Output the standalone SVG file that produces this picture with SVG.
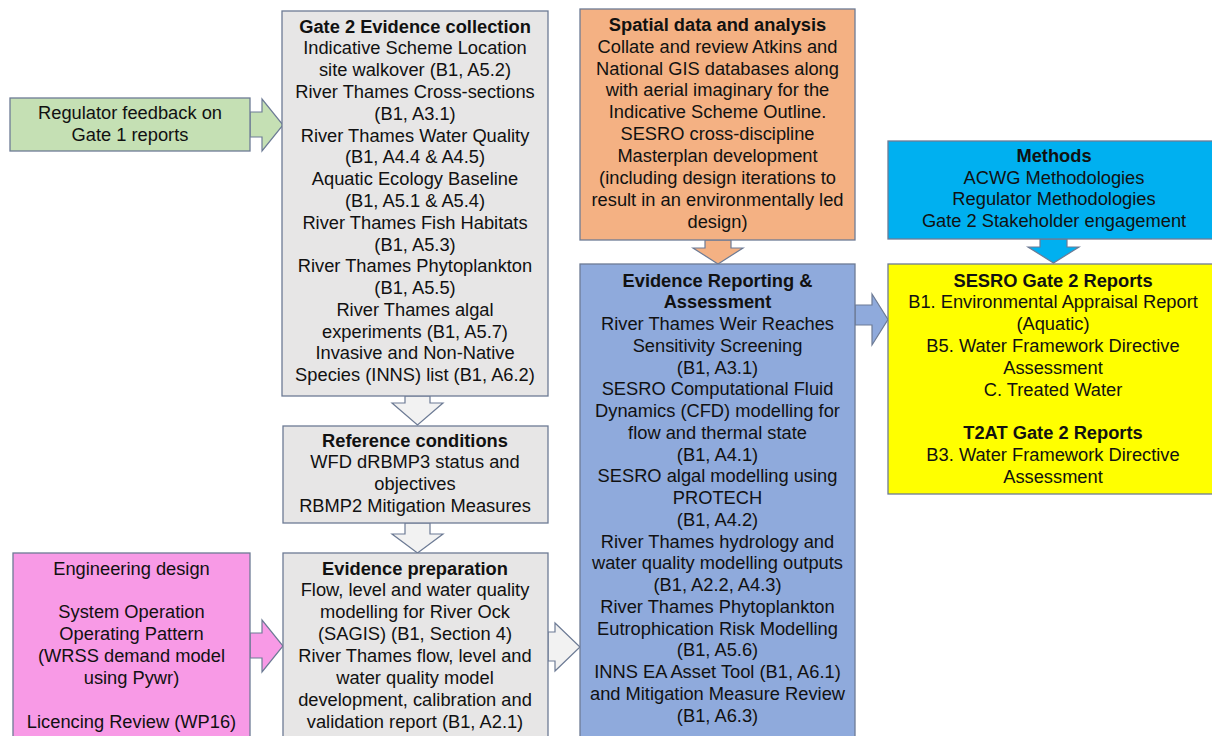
<svg xmlns="http://www.w3.org/2000/svg" width="1212" height="736" viewBox="0 0 1212 736">
<style>
.box{stroke:#6d7b95;stroke-width:1.3}
.arr{stroke:#6d7b95;stroke-width:1.2}
text{font-family:"Liberation Sans",Arial,sans-serif;font-size:18.3px;fill:#111;text-anchor:middle}
.b{font-weight:bold}
</style>
<rect width="1212" height="736" fill="#fff"/>
<g id="connectors">
<polygon class="arr" fill="#c5e0b4" points="250,112 262,112 262,99 283,125 262,151 262,137 250,137"/>
<polygon class="arr" fill="#f2f2f2" points="405,396 430,396 430,403 443,403 417.5,425 392,403 405,403"/>
<polygon class="arr" fill="#f2f2f2" points="405,523 430,523 430,534 443,534 417.5,553 392,534 405,534"/>
<polygon class="arr" fill="#f89ae6" points="250,633 262,633 262,620 283,646 262,672 262,658 250,658"/>
<polygon class="arr" fill="#f2f2f2" points="548,632 555,632 555,623 580,647 555,671 555,661 548,661"/>
<polygon class="arr" fill="#f4b183" points="705,240 731,240 731,248 743,248 718,264 693,248 705,248"/>
<polygon class="arr" fill="#00b0f0" points="1040,239 1067,239 1067,247 1079,247 1053.5,263 1028,247 1040,247"/>
<polygon class="arr" fill="#8faadc" points="855,305 872,305 872,294 888,319.5 872,345 872,325 855,325"/>
</g>
<g id="regulator">
<rect class="box" x="10" y="98" width="240" height="53" fill="#c5e0b4"/>
<text x="130" y="119">Regulator feedback on<tspan x="130" dy="21.8">Gate 1 reports</tspan></text>
</g>
<g id="gate2-evidence">
<rect class="box" x="282" y="11" width="266" height="385" fill="#e7e6e6"/>
<text x="415" y="32.5"><tspan class="b">Gate 2 Evidence collection</tspan><tspan x="415" dy="21.8">Indicative Scheme Location</tspan><tspan x="415" dy="21.8">site walkover (B1, A5.2)</tspan><tspan x="415" dy="21.8">River Thames Cross-sections</tspan><tspan x="415" dy="21.8">(B1, A3.1)</tspan><tspan x="415" dy="21.8">River Thames Water Quality</tspan><tspan x="415" dy="21.8">(B1, A4.4 &amp; A4.5)</tspan><tspan x="415" dy="21.8">Aquatic Ecology Baseline</tspan><tspan x="415" dy="21.8">(B1, A5.1 &amp; A5.4)</tspan><tspan x="415" dy="21.8">River Thames Fish Habitats</tspan><tspan x="415" dy="21.8">(B1, A5.3)</tspan><tspan x="415" dy="21.8">River Thames Phytoplankton</tspan><tspan x="415" dy="21.8">(B1, A5.5)</tspan><tspan x="415" dy="21.8">River Thames algal</tspan><tspan x="415" dy="21.8">experiments (B1, A5.7)</tspan><tspan x="415" dy="21.8">Invasive and Non-Native</tspan><tspan x="415" dy="21.8">Species (INNS) list (B1, A6.2)</tspan></text>
</g>
<g id="reference-conditions">
<rect class="box" x="283" y="426" width="265" height="97" fill="#e7e6e6"/>
<text x="415" y="446.5"><tspan class="b">Reference conditions</tspan><tspan x="415" dy="21.8">WFD dRBMP3 status and</tspan><tspan x="415" dy="21.8">objectives</tspan><tspan x="415" dy="21.8">RBMP2 Mitigation Measures</tspan></text>
</g>
<g id="evidence-preparation">
<rect class="box" x="283" y="553" width="265" height="200" fill="#e7e6e6"/>
<text x="415" y="574.5"><tspan class="b">Evidence preparation</tspan><tspan x="415" dy="21.9">Flow, level and water quality</tspan><tspan x="415" dy="21.9">modelling for River Ock</tspan><tspan x="415" dy="21.9">(SAGIS) (B1, Section 4)</tspan><tspan x="415" dy="21.9">River Thames flow, level and</tspan><tspan x="415" dy="21.9">water quality model</tspan><tspan x="415" dy="21.9">development, calibration and</tspan><tspan x="415" dy="21.9">validation report (B1, A2.1)</tspan></text>
</g>
<g id="engineering-design">
<rect class="box" x="13" y="553" width="237" height="200" fill="#f89ae6"/>
<text x="131.5" y="574.5">Engineering design<tspan x="131.5" dy="43.8">System Operation</tspan><tspan x="131.5" dy="21.9">Operating Pattern</tspan><tspan x="131.5" dy="21.9">(WRSS demand model</tspan><tspan x="131.5" dy="21.9">using Pywr)</tspan><tspan x="131.5" dy="43.8">Licencing Review (WP16)</tspan></text>
</g>
<g id="spatial-data">
<rect class="box" x="580" y="9" width="275" height="231" fill="#f4b183"/>
<text x="717.5" y="30.7"><tspan class="b">Spatial data and analysis</tspan><tspan x="717.5" dy="21.9">Collate and review Atkins and</tspan><tspan x="717.5" dy="21.9">National GIS databases along</tspan><tspan x="717.5" dy="21.9">with aerial imaginary for the</tspan><tspan x="717.5" dy="21.9">Indicative Scheme Outline.</tspan><tspan x="717.5" dy="21.9">SESRO cross-discipline</tspan><tspan x="717.5" dy="21.9">Masterplan development</tspan><tspan x="717.5" dy="21.9">(including design iterations to</tspan><tspan x="717.5" dy="21.9">result in an environmentally led</tspan><tspan x="717.5" dy="21.9">design)</tspan></text>
</g>
<g id="evidence-reporting">
<rect class="box" x="580" y="264" width="275" height="490" fill="#8faadc"/>
<text x="717.5" y="286.7"><tspan class="b">Evidence Reporting &amp;</tspan><tspan class="b" x="717.5" dy="21.75">Assessment</tspan><tspan x="717.5" dy="21.75">River Thames Weir Reaches</tspan><tspan x="717.5" dy="21.75">Sensitivity Screening</tspan><tspan x="717.5" dy="21.75">(B1, A3.1)</tspan><tspan x="717.5" dy="21.75">SESRO Computational Fluid</tspan><tspan x="717.5" dy="21.75">Dynamics (CFD) modelling for</tspan><tspan x="717.5" dy="21.75">flow and thermal state</tspan><tspan x="717.5" dy="21.75">(B1, A4.1)</tspan><tspan x="717.5" dy="21.75">SESRO algal modelling using</tspan><tspan x="717.5" dy="21.75">PROTECH</tspan><tspan x="717.5" dy="21.75">(B1, A4.2)</tspan><tspan x="717.5" dy="21.75">River Thames hydrology and</tspan><tspan x="717.5" dy="21.75">water quality modelling outputs</tspan><tspan x="717.5" dy="21.75">(B1, A2.2, A4.3)</tspan><tspan x="717.5" dy="21.75">River Thames Phytoplankton</tspan><tspan x="717.5" dy="21.75">Eutrophication Risk Modelling</tspan><tspan x="717.5" dy="21.75">(B1, A5.6)</tspan><tspan x="717.5" dy="21.75">INNS EA Asset Tool (B1, A6.1)</tspan><tspan x="717.5" dy="21.75">and Mitigation Measure Review</tspan><tspan x="717.5" dy="21.75">(B1, A6.3)</tspan></text>
</g>
<g id="methods">
<rect class="box" x="888" y="141" width="340" height="98" fill="#00b0f0"/>
<text x="1054" y="161.7"><tspan class="b">Methods</tspan><tspan x="1054" dy="21.8">ACWG Methodologies</tspan><tspan x="1054" dy="21.8">Regulator Methodologies</tspan><tspan x="1054" dy="21.8">Gate 2 Stakeholder engagement</tspan></text>
</g>
<g id="reports">
<rect class="box" x="888" y="264" width="340" height="230" fill="#ffff00"/>
<text x="1053" y="286.5"><tspan class="b">SESRO Gate 2 Reports</tspan><tspan x="1053" dy="21.8">B1. Environmental Appraisal Report</tspan><tspan x="1053" dy="21.8">(Aquatic)</tspan><tspan x="1053" dy="21.8">B5. Water Framework Directive</tspan><tspan x="1053" dy="21.8">Assessment</tspan><tspan x="1053" dy="21.8">C. Treated Water</tspan><tspan class="b" x="1053" dy="43.6">T2AT Gate 2 Reports</tspan><tspan x="1053" dy="21.8">B3. Water Framework Directive</tspan><tspan x="1053" dy="21.8">Assessment</tspan></text>
</g>
</svg>
